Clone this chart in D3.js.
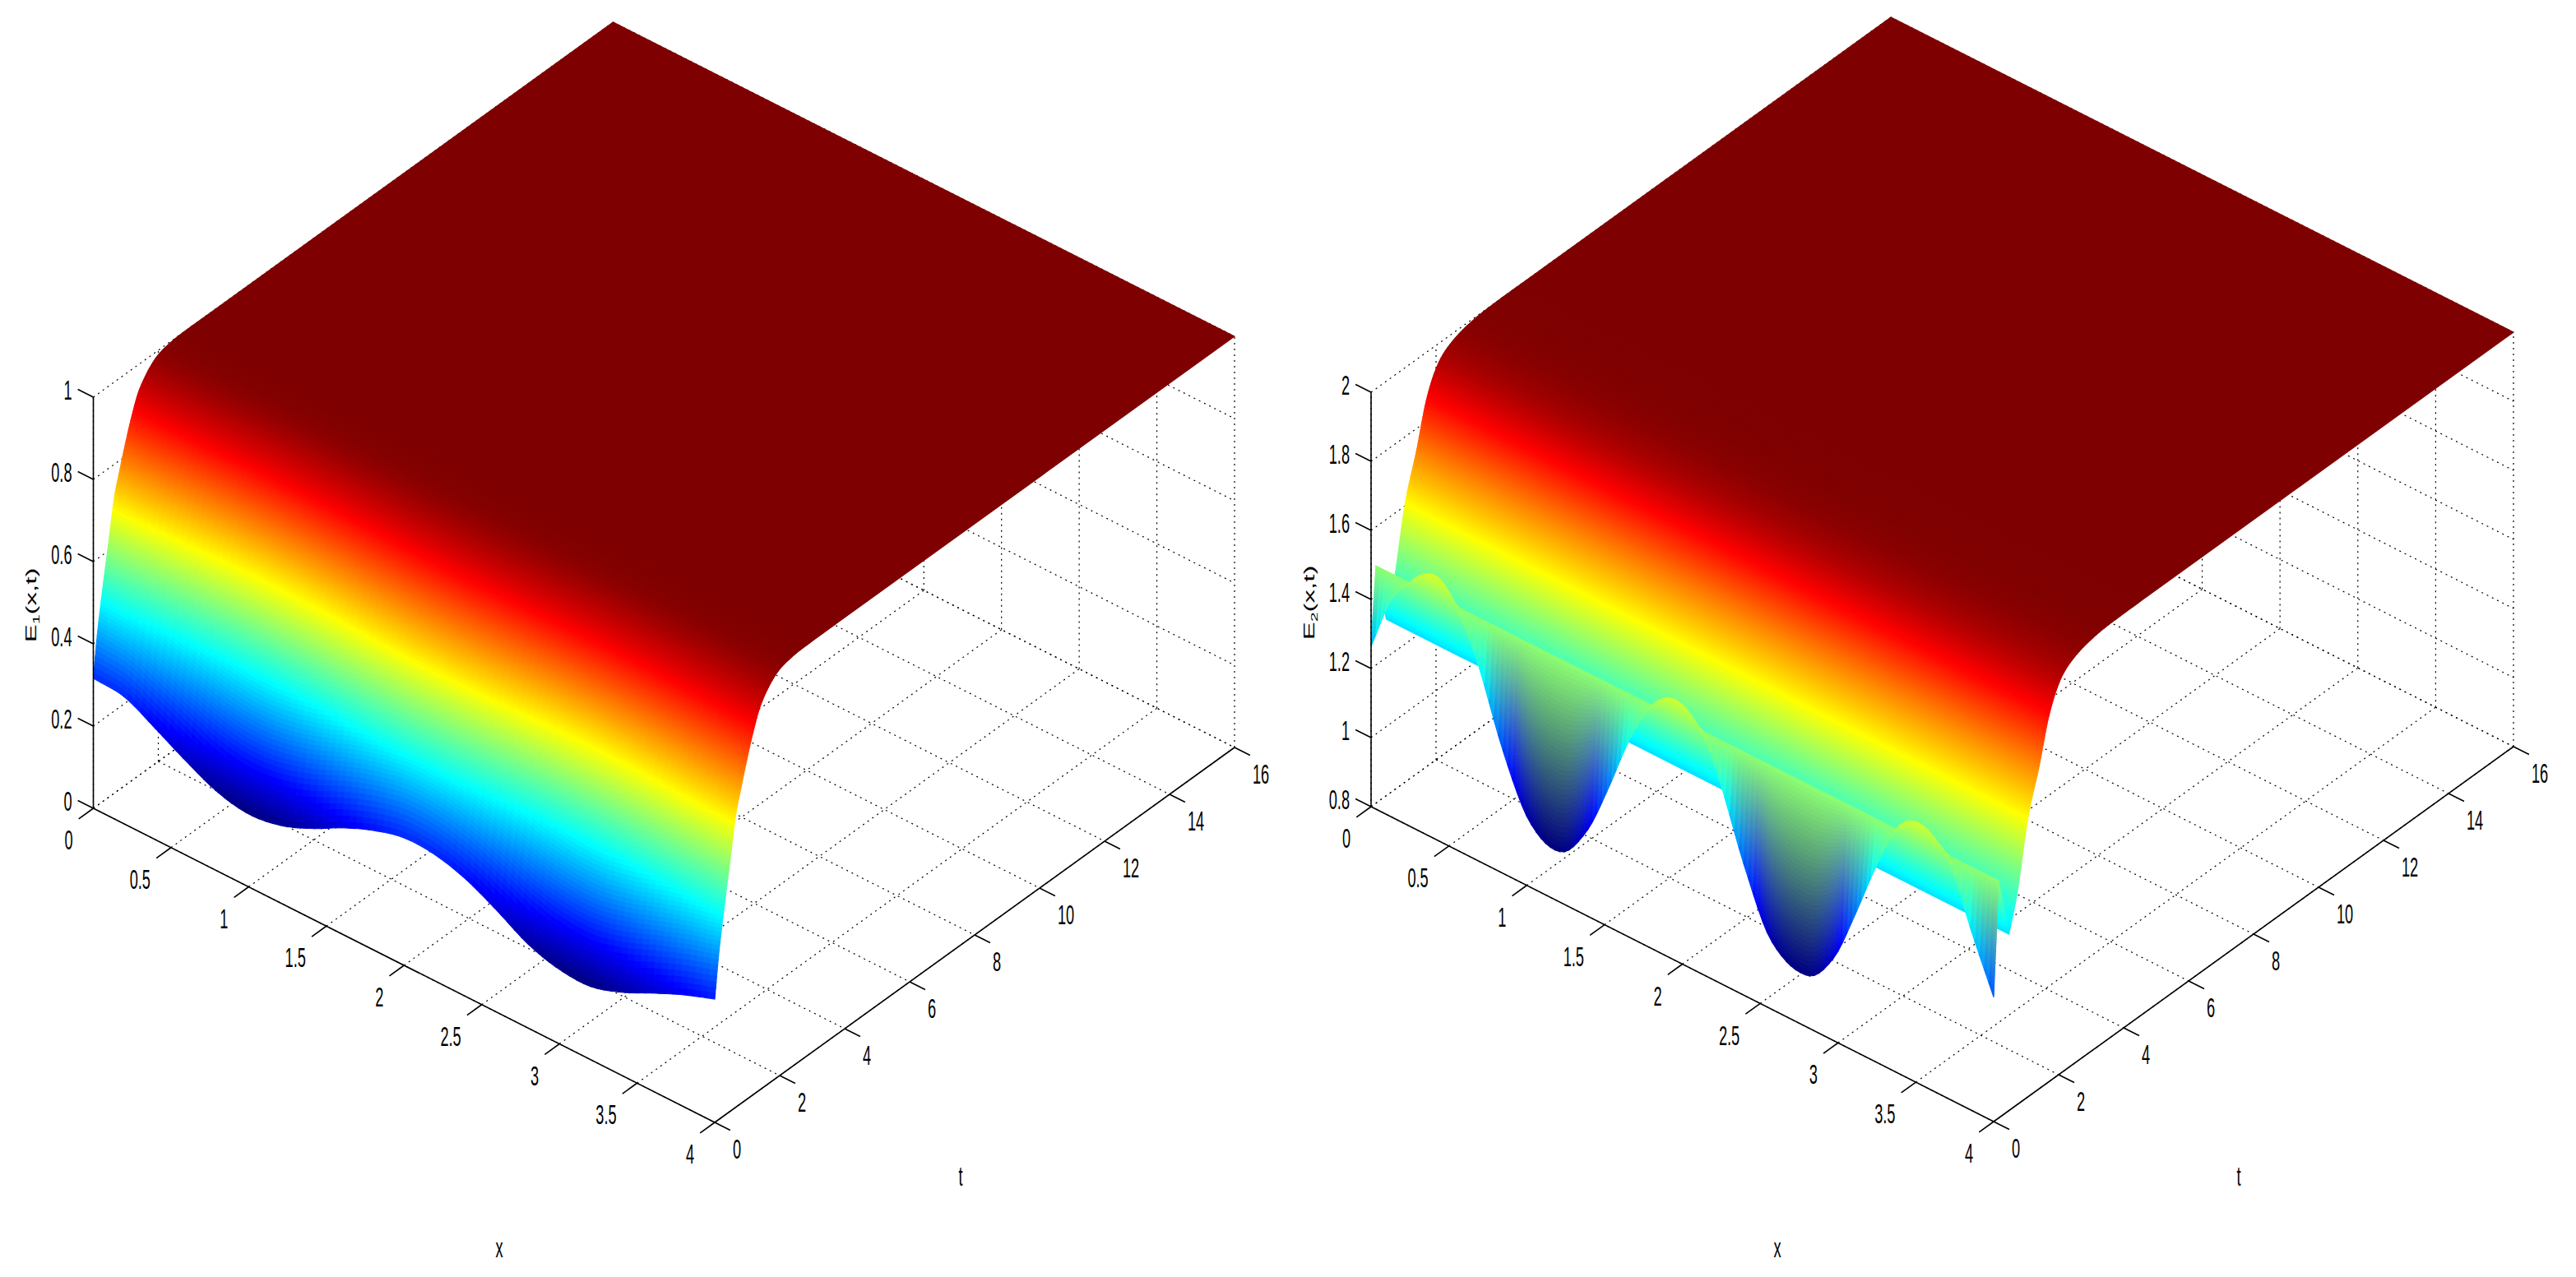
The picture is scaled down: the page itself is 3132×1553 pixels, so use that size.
<!DOCTYPE html>
<html><head><meta charset="utf-8">
<style>html,body{margin:0;background:#fff}svg{display:block}text{font-family:"Liberation Sans",Arial,sans-serif;fill:#000}</style>
<script src="https://cdn.jsdelivr.net/npm/d3@7"></script></head><body>
<script>
// ---- values ----
const xTicks = [0,0.5,1,1.5,2,2.5,3,3.5,4];
const tTicks = [0,2,4,6,8,10,12,14,16];
const zTicks1 = [0,0.2,0.4,0.6,0.8,1];
const zTicks2 = [0.8,1,1.2,1.4,1.6,1.8,2];

// E1: initial profile at t = 0
const e1X = [0,.2,.4,.6,.8,1,1.2,1.4,1.6,1.8,2,2.2,2.4,2.6,2.8,3,3.2,3.4,3.6,3.8,4];
const e1Z0 = [.316,.309,.27,.228,.192,.177,.188,.218,.258,.29,.31,.307,.285,.247,.204,.181,.178,.202,.238,.272,.30];
// E1: rise toward 1 along t (fraction of the gap closed)
const e1T = [0,.127,.319,.476,.643,.8,.954,1.165,1.418,1.88,2.39,3];
const e1G = [0,.15,.32,.447,.585,.665,.737,.826,.908,.975,.996,1];

// E2: initial profile at t = 0
const e2X = [0,.125,.243,.342,.445,.547,.682,.85,1.018,1.22,1.389,1.524,1.659,1.794,1.912,2.03,2.165,2.266,2.4,2.568,2.805,2.973,3.108,3.243,3.38,3.495,3.613,3.73,3.85,4];
const e2Z0 = [1.264,1.424,1.503,1.552,1.559,1.503,1.376,1.152,.989,.947,1.048,1.2,1.371,1.498,1.551,1.543,1.469,1.352,1.173,1,.95,1.04,1.194,1.365,1.51,1.554,1.537,1.476,1.327,1.16];
// E2: x-independent part along t, after the first step
const e2T = [.15,.47,.73,1.05,1.4,1.7,2.05,2.5,3.2,4];
const e2Z = [1.487,1.311,1.417,1.606,1.735,1.86,1.94,1.977,1.996,2];

const jet = d3.scaleLinear()
  .domain([0,.125,.375,.625,.875,1])
  .range(["#00007f","#0000ff","#00ffff","#ffff00","#ff0000","#7f0000"])
  .clamp(true);

// smooth curve through read values (finite-difference Hermite)
function through(xs, ys){
  const m = xs.map((_,i)=>{
    const a=Math.max(i-1,0), b=Math.min(i+1,xs.length-1);
    return (ys[b]-ys[a])/(xs[b]-xs[a]);
  });
  const bis=d3.bisector(d=>d).right;
  return v=>{
    if(v<=xs[0]) return ys[0];
    if(v>=xs[xs.length-1]) return ys[ys.length-1];
    const i=Math.min(bis(xs,v)-1,xs.length-2), h=xs[i+1]-xs[i], s=(v-xs[i])/h;
    const s2=s*s,s3=s2*s;
    return (2*s3-3*s2+1)*ys[i]+(s3-2*s2+s)*h*m[i]+(-2*s3+3*s2)*ys[i+1]+(s3-s2)*h*m[i+1];
  };
}

const W=3132,H=1553;
const svg=d3.select("body").append("svg").attr("width",W).attr("height",H).attr("viewBox",[0,0,W,H]);

const SQ=.55, FS=33;
function label(g,x,y,txt,anchor){
  return g.append("text").attr("transform",`translate(${x},${y}) scale(${SQ},1)`)
    .attr("text-anchor",anchor||"middle").attr("dominant-baseline","central")
    .attr("font-size",FS).text(txt);
}
const fmt=v=>String(v);

function panel(cfg){
  const g=svg.append("g");
  const xDx=d3.scaleLinear([0,4],[0,cfg.xv[0]]), xDy=d3.scaleLinear([0,4],[0,cfg.xv[1]]);
  const tDx=d3.scaleLinear([0,16],[0,cfg.tv[0]]), tDy=d3.scaleLinear([0,16],[0,cfg.tv[1]]);
  const zDy=d3.scaleLinear(cfg.zDomain,[0,-cfg.zLen]);
  const P=(x,t,z)=>[cfg.o[0]+xDx(x)+tDx(t), cfg.o[1]+xDy(x)+tDy(t)+zDy(z)];
  const line=d3.line();
  const z0=cfg.zDomain[0], z1=cfg.zDomain[1];

  // back planes: dotted grid
  const grid=g.append("g").attr("fill","none").attr("stroke","#000").attr("stroke-width",1.2).attr("stroke-dasharray","2 5");
  const seg=(a,b)=>grid.append("path").attr("d",line([a,b]));
  xTicks.forEach(x=>{ seg(P(x,0,z0),P(x,16,z0)); seg(P(x,16,z0),P(x,16,z1)); });
  tTicks.forEach(t=>{ seg(P(0,t,z0),P(4,t,z0)); seg(P(0,t,z0),P(0,t,z1)); });
  cfg.zTicks.forEach(z=>{ seg(P(0,0,z),P(0,16,z)); seg(P(0,16,z),P(4,16,z)); });

  // surface, painted back to front
  const s=g.append("g");
  const rows=cfg.rows;
  for(let j=rows.length-2;j>=0;j--){
    const t0=rows[j],t1=rows[j+1],tm=(t0+t1)/2;
    const cols=cfg.cols(tm);
    for(let i=0;i<cols.length-1;i++){
      const a=cols[i],b=cols[i+1],xm=(a+b)/2;
      const pts=[P(a,t0,cfg.f(a,t0)),P(b,t0,cfg.f(b,t0)),P(b,t1,cfg.f(b,t1)),P(a,t1,cfg.f(a,t1))];
      const c=cfg.color(xm,tm);
      s.append("path").attr("d",line(pts)+"Z").attr("fill",c).attr("stroke",c).attr("stroke-width",1.1);
    }
  }

  // axes
  const ax=g.append("g").attr("fill","none").attr("stroke","#000").attr("stroke-width",1.6);
  ax.append("path").attr("d",line([P(0,0,z0),P(4,0,z0)]));
  ax.append("path").attr("d",line([P(4,0,z0),P(4,16,z0)]));
  ax.append("path").attr("d",line([P(0,0,z0),P(0,0,z1)]));
  const lab=g.append("g");
  xTicks.forEach(x=>{
    ax.append("path").attr("d",line([P(x,0,z0),P(x,-.45,z0)]));
    const p=P(x,0,z0); label(lab,p[0]-25,p[1]+39,fmt(x),"end");
  });
  tTicks.forEach(t=>{
    ax.append("path").attr("d",line([P(4,t,z0),P(4.1,t,z0)]));
    const p=P(4,t,z0); label(lab,p[0]+22,p[1]+33,fmt(t),"start");
  });
  cfg.zTicks.forEach(z=>{
    ax.append("path").attr("d",line([P(0,0,z),P(-.1,0,z)]));
    const p=P(0,0,z); label(lab,p[0]-26,p[1]-8,fmt(z),"end");
  });
  label(lab,cfg.xLab[0],cfg.xLab[1],"x");
  label(lab,cfg.tLab[0],cfg.tLab[1],"t");
  const yl=lab.append("text").attr("transform",`translate(${cfg.yLab[0]},${cfg.yLab[1]}) scale(${SQ},1) rotate(-90)`)
    .attr("text-anchor","middle").attr("font-size",FS);
  yl.append("tspan").text("E");
  yl.append("tspan").attr("font-size",FS*.65).attr("dy",7).text(cfg.sub);
  yl.append("tspan").attr("dy",-7).text("(x,t)");
}

// E1 surface
const e1P=through(e1X,e1Z0), e1R=through(e1T,e1G);
const e1F=(x,t)=>{const z=e1P(x);return z+(1-z)*Math.min(1,e1R(t));};
const e1Min=d3.min(e1Z0);
const e1Cols=d3.range(0,91).map(i=>i*4/90), flatCols=[0,4];
const e1Rows=d3.range(0,100).map(i=>i*.015).concat(d3.range(0,51).map(i=>1.5+i*.03)).concat([16]);
panel({o:[113.5,983],xv:[755.5,382],tv:[632,-456],zDomain:[0,1],zLen:500,zTicks:zTicks1,
  xLab:[607,1518],tLab:[1168,1431],yLab:[44,736],sub:"1",rows:e1Rows,f:e1F,
  cols:t=> t<3 ? e1Cols : flatCols,
  color:(x,t)=>jet((e1F(x,t)-e1Min)/(1-e1Min))});

// E2 surface
const e2P=through(e2X,e2Z0), e2R=through(e2T.slice(1),e2Z.slice(1));
const e2F=(x,t)=>{
  if(t<=e2T[0]) return d3.interpolateNumber(e2P(x),e2Z[0])(t/e2T[0]);
  if(t<=e2T[1]) return d3.interpolateNumber(e2Z[0],e2Z[1])((t-e2T[0])/(e2T[1]-e2T[0]));
  return e2R(t);
};
const e2Min=d3.min(e2Z0);
const e2J=z=>jet((z-e2Min)/(2-e2Min));
const e2ColsFine=d3.range(0,133).map(i=>i*4/132);
const e2Rows=d3.range(0,41).map(i=>i*e2T[0]/40)
  .concat(d3.range(1,17).map(i=>e2T[0]+i*(e2T[1]-e2T[0])/16))
  .concat(d3.range(1,100).map(i=>e2T[1]+i*.015))
  .concat(d3.range(1,64).map(i=>e2T[1]+1.485+i*.04))
  .concat([16]);
panel({o:[1667,981],xv:[757,383],tv:[632,-456],zDomain:[.8,2],zLen:504,zTicks:zTicks2,
  xLab:[2161,1518],tLab:[2722,1431],yLab:[1598,733],sub:"2",rows:e2Rows,f:e2F,
  cols:t=> t<e2T[0] ? e2ColsFine : flatCols,
  color:(x,t)=> t<e2T[0]
    ? d3.interpolateRgb(e2J(e2P(x)),e2J(e2Z[0]))(t/e2T[0])
    : e2J(e2F(x,t))});
</script></body></html>
